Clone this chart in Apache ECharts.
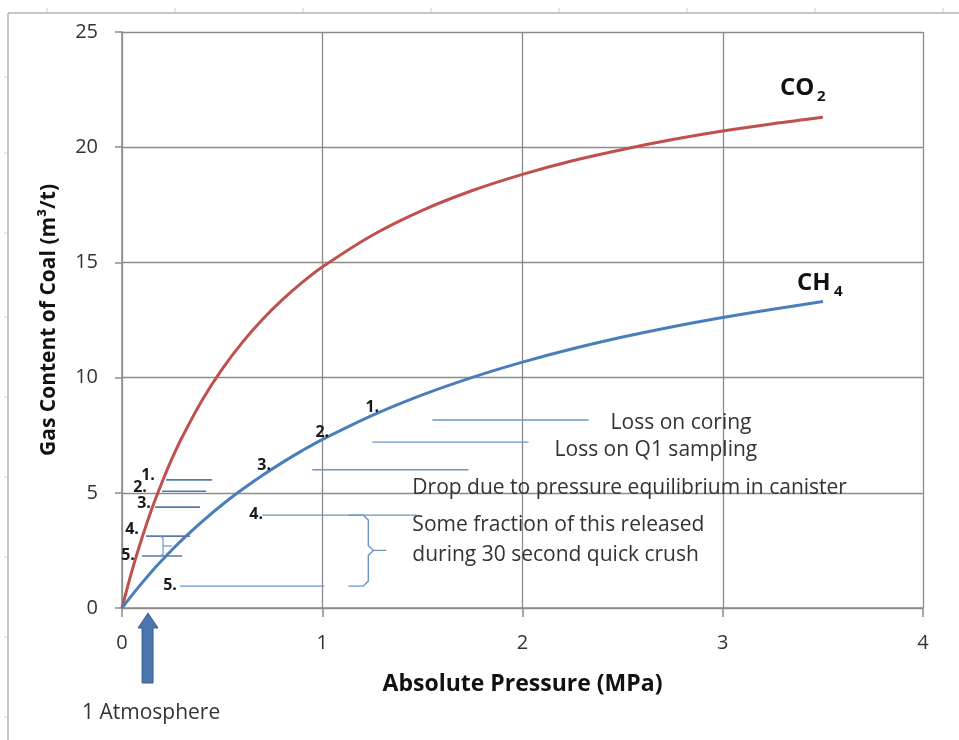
<!DOCTYPE html>
<html lang="en">
<head>
    <meta charset="UTF-8">
    <title>Gas content of coal</title>
    <script src="https://cdn.jsdelivr.net/npm/echarts@6/dist/echarts.min.js"></script>
    <style>
        html, body { margin: 0; padding: 0; background: #fff; }
        #container { width: 959px; height: 740px; }
    </style>
</head>
<body>
<div id="container"></div>
<script type="text/javascript">
// values
var pressure = [0, 0.05, 0.1, 0.15, 0.2, 0.25, 0.3, 0.4, 0.5, 0.6, 0.7, 0.8, 0.9, 1.0, 1.25, 1.5, 1.75, 2.0, 2.25, 2.5, 2.75, 3.0, 3.25, 3.5];
var co2 = [0, 1.62, 3.05, 4.33, 5.46, 6.49, 7.41, 9.02, 10.37, 11.52, 12.51, 13.37, 14.13, 14.8, 16.18, 17.26, 18.12, 18.82, 19.41, 19.9, 20.33, 20.7, 21.02, 21.3];
var ch4 = [0, 0.56, 1.09, 1.6, 2.07, 2.53, 2.96, 3.75, 4.48, 5.14, 5.75, 6.31, 6.83, 7.31, 8.36, 9.25, 10.01, 10.67, 11.25, 11.76, 12.21, 12.61, 12.97, 13.3];

// annotation numbers [label, x, y]
var co2Steps = [['1.', 0.13, 5.75], ['2.', 0.09, 5.25], ['3.', 0.11, 4.55], ['4.', 0.05, 3.4], ['5.', 0.03, 2.3]];
var ch4Steps = [['1.', 1.25, 8.7], ['2.', 1.0, 7.6], ['3.', 0.71, 6.2], ['4.', 0.67, 4.05], ['5.', 0.24, 1.0]];
// annotation lines [x1, x2, y]
var co2Lines = [[0.22, 0.45, 5.56], [0.2, 0.42, 5.07], [0.165, 0.39, 4.38], [0.12, 0.34, 3.12], [0.1, 0.3, 2.26]];
var ch4Lines = [[1.55, 2.33, 8.16], [1.25, 2.03, 7.2], [0.95, 1.73, 6.0], [0.7, 1.47, 4.03], [0.29, 1.01, 0.95]];
// notes [text, x, y]
var notes = [
    ['Loss on coring', 2.44, 8.05],
    ['Loss on Q1 sampling', 2.16, 6.85],
    ['Drop due to pressure equilibrium in canister', 1.45, 5.2],
    ['Some fraction of this released', 1.45, 3.6],
    ['during 30 second quick crush', 1.45, 2.3]
];

var FONT = '"Open Sans", Lato, sans-serif';
var dom = document.getElementById("container");
var myChart = echarts.init(dom);

var option = {
    animation: false,
    grid: { left: 122, right: 36, top: 32, bottom: 132 },
    xAxis: {
        type: 'value',
        min: 0, max: 4, interval: 1,
        name: 'Absolute Pressure (MPa)',
        nameLocation: 'middle',
        nameGap: 65,
        nameTextStyle: { fontSize: 23, fontWeight: 'bold', color: '#111', fontFamily: FONT },
        axisLine: { show: true, lineStyle: { color: '#8c8c8c', width: 1.5 } },
        axisTick: { show: true, length: 9, lineStyle: { color: '#8c8c8c', width: 1.5 } },
        axisLabel: { fontSize: 20, color: '#333', margin: 25, fontFamily: FONT },
        splitLine: { show: true, lineStyle: { color: '#8c8c8c', width: 1.3 } }
    },
    yAxis: {
        type: 'value',
        min: 0, max: 25, interval: 5,
        name: 'Gas Content of Coal (m\u00b3/t)',
        nameLocation: 'middle',
        nameGap: 62,
        nameTextStyle: { fontSize: 21, fontWeight: 'bold', color: '#111', fontFamily: FONT },
        axisLine: { show: true, lineStyle: { color: '#8c8c8c', width: 1.5 } },
        axisTick: { show: true, length: 7, lineStyle: { color: '#8c8c8c', width: 1.5 } },
        axisLabel: { fontSize: 20, color: '#333', margin: 24, fontFamily: FONT },
        splitLine: { show: true, lineStyle: { color: '#8c8c8c', width: 1.3 } }
    },
    series: [
        {
            name: 'CO2', type: 'line', smooth: 0.35, showSymbol: false,
            lineStyle: { color: '#c0504d', width: 3 },
            data: pressure.map(function (p, i) { return [p, co2[i]]; })
        },
        {
            name: 'CH4', type: 'line', smooth: 0.35, showSymbol: false,
            lineStyle: { color: '#4a7ebb', width: 3 },
            data: pressure.map(function (p, i) { return [p, ch4[i]]; })
        }
    ]
};
myChart.setOption(option);

function px(x, y) { return myChart.convertToPixel({ gridIndex: 0 }, [x, y]); }

var g = [];
// outer frame of the source figure
g.push({ type: 'line', shape: { x1: 8, y1: 13, x2: 959, y2: 13 }, style: { stroke: '#b5b5b5', lineWidth: 1.5 }, z: 1 });
g.push({ type: 'line', shape: { x1: 8, y1: 13, x2: 8, y2: 740 }, style: { stroke: '#b5b5b5', lineWidth: 1.5 }, z: 1 });
[47, 175, 303, 431, 559, 687, 815, 943].forEach(function (x) {
    g.push({ type: 'line', shape: { x1: x, y1: 8, x2: x, y2: 13 }, style: { stroke: '#d0d0d0', lineWidth: 1 } });
});
[77, 153, 233, 317, 397, 477, 557, 637, 717].forEach(function (y) {
    g.push({ type: 'line', shape: { x1: 4, y1: y, x2: 8, y2: y }, style: { stroke: '#d0d0d0', lineWidth: 1 } });
});

function hline(l, color, w) {
    var a = px(l[0], l[2]), b = px(l[1], l[2]);
    g.push({ type: 'line', shape: { x1: a[0], y1: a[1], x2: b[0], y2: b[1] }, style: { stroke: color, lineWidth: w }, z: 10 });
}
co2Lines.forEach(function (l) { hline(l, '#5878a8', 1.6); });
ch4Lines.forEach(function (l) { hline(l, '#6b95c8', 1.4); });

function step(s) {
    var p = px(s[1], s[2]);
    g.push({ type: 'text', x: p[0], y: p[1], z: 12,
        style: { text: s[0], font: 'bold 16px ' + FONT, fill: '#1a1a1a', align: 'center', verticalAlign: 'middle' } });
}
co2Steps.forEach(step);
ch4Steps.forEach(step);

notes.forEach(function (n) {
    var p = px(n[1], n[2]);
    g.push({ type: 'text', x: p[0], y: p[1], z: 12,
        style: { text: n[0], font: '21px ' + FONT, fill: '#333', align: 'left', verticalAlign: 'middle' } });
});

// small bracket between CO2 lines 4 and 5
var b1 = px(0.205, 3.12), b2 = px(0.205, 2.26), bm = px(0.205, 2.69), bt = px(0.25, 2.69);
g.push({ type: 'polyline', z: 10, shape: { points: [[b1[0] - 3, b1[1]], [b1[0], b1[1] + 2], [b2[0], b2[1] - 2], [b2[0] - 3, b2[1]]] },
    style: { stroke: '#6b95c8', lineWidth: 1.2, fill: null } });
g.push({ type: 'line', z: 10, shape: { x1: bm[0], y1: bm[1], x2: bt[0], y2: bt[1] }, style: { stroke: '#6b95c8', lineWidth: 1.2 } });

// large brace for CH4 steps 4 and 5
var t0 = px(1.13, 4.03), tm = px(1.23, 2.5), t1 = px(1.32, 2.5), bb = px(1.13, 0.95);
var bx = tm[0];
g.push({ type: 'polyline', z: 10, shape: { points: [[t0[0], t0[1]], [bx - 5, t0[1]], [bx, t0[1] + 5], [bx, tm[1] - 5], [bx + 5, tm[1]], [t1[0], t1[1]]] },
    style: { stroke: '#6b95c8', lineWidth: 1.4, fill: null } });
g.push({ type: 'polyline', z: 10, shape: { points: [[bb[0], bb[1]], [bx - 5, bb[1]], [bx, bb[1] - 5], [bx, tm[1] + 5], [bx + 5, tm[1]]] },
    style: { stroke: '#6b95c8', lineWidth: 1.4, fill: null } });

// series names near the line ends
var eCO2 = px(pressure[pressure.length - 1], co2[co2.length - 1]);
var eCH4 = px(pressure[pressure.length - 1], ch4[ch4.length - 1]);
g.push({ type: 'text', x: eCO2[0] - 43, y: eCO2[1] - 29, style: { text: 'CO', font: 'bold 24px ' + FONT, fill: '#111', align: 'left', verticalAlign: 'middle' } });
g.push({ type: 'text', x: eCO2[0] - 6, y: eCO2[1] - 21, style: { text: '2', font: 'bold 15px ' + FONT, fill: '#111', align: 'left', verticalAlign: 'middle' } });
g.push({ type: 'text', x: eCH4[0] - 26, y: eCH4[1] - 18, style: { text: 'CH', font: 'bold 24px ' + FONT, fill: '#111', align: 'left', verticalAlign: 'middle' } });
g.push({ type: 'text', x: eCH4[0] + 11, y: eCH4[1] - 10, style: { text: '4', font: 'bold 15px ' + FONT, fill: '#111', align: 'left', verticalAlign: 'middle' } });

// 1 atmosphere arrow
var a0 = px(0.13, 0);
var ax = a0[0], ay = a0[1] + 5;
g.push({ type: 'polygon', z: 10, shape: { points: [[ax, ay], [ax + 10, ay + 15], [ax + 5, ay + 15], [ax + 5, ay + 70], [ax - 6, ay + 70], [ax - 6, ay + 15], [ax - 10, ay + 15]] },
    style: { fill: '#4a76ad', stroke: '#3a5f8f', lineWidth: 1 } });
g.push({ type: 'text', x: 82, y: 713, style: { text: '1 Atmosphere', font: '21px ' + FONT, fill: '#333', align: 'left', verticalAlign: 'middle' } });

myChart.setOption({ graphic: g });
</script>
</body>
</html>
